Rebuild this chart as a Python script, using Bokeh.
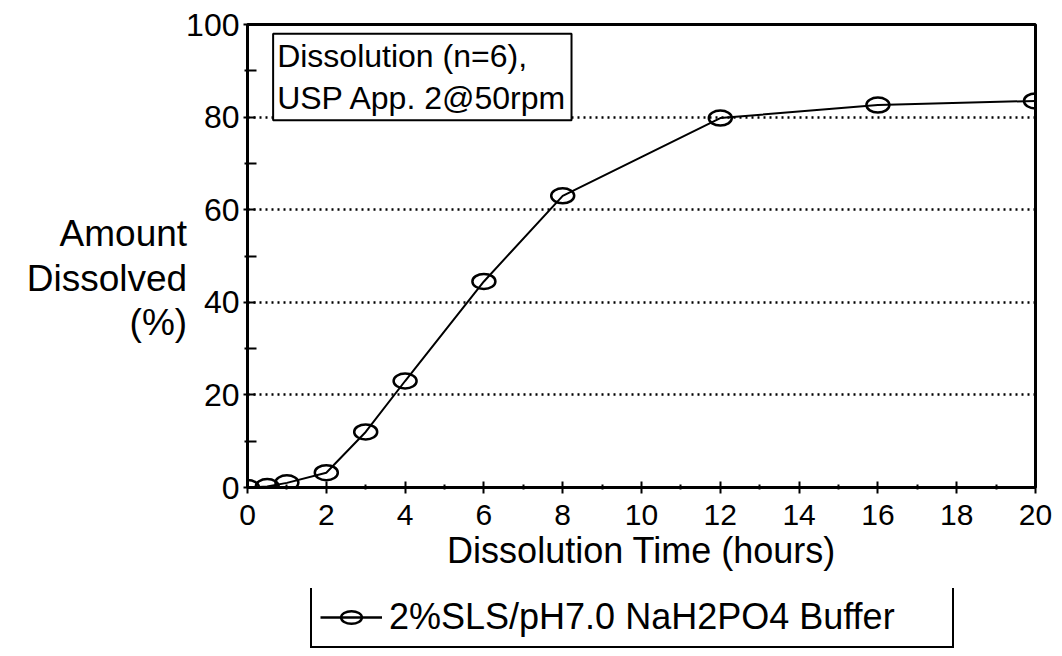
from bokeh.plotting import figure
from bokeh.layouts import column
from bokeh.models import Range1d, Label, Legend, LegendItem, FixedTicker
from bokeh.embed import file_html
from bokeh.resources import INLINE

# ---- data ----
time_hours = [0, 0.5, 1, 2, 3, 4, 6, 8, 12, 16, 20]
amount_dissolved = [0, 0.2, 1.0, 3.2, 12.0, 23.0, 44.5, 63.0, 79.8, 82.6, 83.5]
x_ticks = [0, 2, 4, 6, 8, 10, 12, 14, 16, 18, 20]
x_minor = [1, 3, 5, 7, 9, 11, 13, 15, 17, 19]
y_ticks = [0, 20, 40, 60, 80, 100]
y_minor = [10, 30, 50, 70, 90]
series_name = "2%SLS/pH7.0 NaH2PO4 Buffer"
note_text = "Dissolution (n=6),\nUSP App. 2@50rpm"
x_title = "Dissolution Time (hours)"
y_title = "\nAmount\nDissolved\n(%)"

FONT = "Liberation Sans"

p = figure(width=1054, height=588, output_backend="svg", toolbar_location=None,
           x_range=Range1d(0, 20), y_range=Range1d(0, 100),
           min_border_left=247, min_border_right=19, min_border_top=24,
           min_border_bottom=101)
p.background_fill_color = "white"
p.border_fill_color = "white"
p.outline_line_color = "black"
p.outline_line_width = 3

# axes
p.xaxis.ticker = FixedTicker(ticks=x_ticks, minor_ticks=x_minor)
p.yaxis.ticker = FixedTicker(ticks=y_ticks, minor_ticks=y_minor)
for ax in (p.xaxis[0], p.yaxis[0]):
    ax.axis_line_color = "black"
    ax.axis_line_width = 3
    ax.major_tick_line_color = "black"
    ax.major_tick_line_width = 2
    ax.minor_tick_line_color = "black"
    ax.minor_tick_line_width = 2
    ax.major_label_text_color = "black"
    ax.major_label_text_font = FONT
    ax.axis_label_text_color = "black"
    ax.axis_label_text_font = FONT
    ax.axis_label_text_font_style = "normal"

p.xaxis.major_tick_in = 6
p.xaxis.major_tick_out = 6
p.xaxis.minor_tick_in = 3
p.xaxis.minor_tick_out = 2
p.xaxis.major_label_text_font_size = "30px"
p.xaxis.major_label_standoff = 11
p.xaxis.axis_label = x_title
p.xaxis.axis_label_text_font_size = "36px"
p.xaxis.axis_label_standoff = 2

p.yaxis.major_tick_in = 8
p.yaxis.major_tick_out = 4
p.yaxis.minor_tick_in = 9
p.yaxis.minor_tick_out = 3
p.yaxis.major_label_text_font_size = "32px"
p.yaxis.major_label_standoff = 4

# y axis title: horizontal, stacked on three lines
p.yaxis.axis_label = y_title
p.yaxis.axis_label_text_font_size = "37px"
p.yaxis.axis_label_text_line_height = 1.08
p.yaxis.axis_label_standoff = -4
p.yaxis.axis_label_orientation = "horizontal"
p.yaxis.axis_label_text_align = "right"

# grid
p.xgrid.grid_line_color = None
p.ygrid.grid_line_color = "black"
p.ygrid.grid_line_width = 2.5
p.ygrid.grid_line_dash = "2 4"

# series
line_r = p.line(time_hours, amount_dissolved, line_color="black", line_width=2)
ell_r = p.ellipse(time_hours, amount_dissolved, width=23, height=15,
                  width_units="screen", height_units="screen",
                  fill_color=None, line_color="black", line_width=2.5)

# boxed note
p.add_layout(Label(x=0.625, y=98.0, x_offset=1, y_offset=0, text=note_text,
                   text_align="left", text_baseline="top", text_font=FONT,
                   text_font_size="32px", text_color="black",
                   text_line_height=1.18,
                   padding=4, border_line_color="black", border_line_width=2,
                   background_fill_color="white"))

# ---- legend strip under the chart (same series, ranges keep its marks out of view) ----
lg = figure(width=1054, height=60, output_backend="svg", toolbar_location=None,
            x_range=Range1d(-2, -1), y_range=Range1d(-2, -1),
            min_border=0, x_axis_type=None, y_axis_type=None)
lg.outline_line_color = None
lg.grid.grid_line_color = None
lg.background_fill_color = "white"
lg.border_fill_color = "white"
lg_line = lg.line(time_hours, amount_dissolved, line_color="black", line_width=2.5)
lg_ell = lg.ellipse(time_hours, amount_dissolved, width=18, height=11,
                    width_units="screen", height_units="screen",
                    fill_color=None, line_color="black", line_width=2.5)
legend = Legend(items=[LegendItem(label=series_name, renderers=[lg_line, lg_ell])],
                location=(63, 0), orientation="vertical",
                label_text_font=FONT, label_text_font_size="36px",
                label_text_color="black", label_width=555,
                glyph_width=62, glyph_height=26, label_standoff=7,
                padding=8, spacing=0, margin=0,
                border_line_color="black", border_line_width=2.5,
                border_line_alpha=1.0,
                background_fill_color="white", background_fill_alpha=1)
lg.add_layout(legend, "center")

layout = column(p, lg, spacing=0)
open("out.html", "w").write(file_html(layout, INLINE))
